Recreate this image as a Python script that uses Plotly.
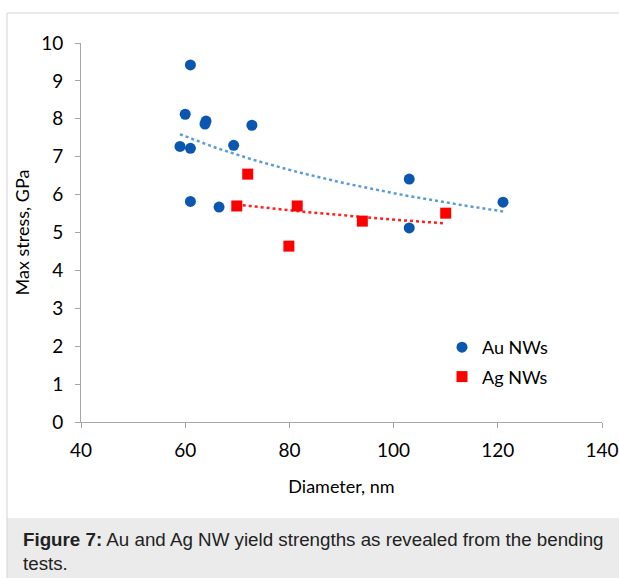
import numpy as np
import plotly.graph_objects as go

# ---- data ----
au_d = [59, 60, 61, 61, 61, 64, 63.8, 66.5, 69.3, 72.8, 103, 103, 121]
au_s = [7.27, 8.12, 9.42, 7.22, 5.82, 7.94, 7.86, 5.67, 7.30, 7.83, 6.41, 5.12, 5.80]
ag_d = [69.9, 72, 79.9, 81.5, 94, 110]
ag_s = [5.70, 6.54, 4.64, 5.70, 5.30, 5.51]
x_ticks = [40, 60, 80, 100, 120, 140]
y_ticks = list(range(0, 11))

W, H = 619, 578
L, R, T, B = 81, 17, 43, 156
pw, ph = W - L - R, H - T - B


def px(x):
    return (x - L) / pw


def py(y):
    return (H - B - y) / ph


def power_fit(x, y):
    x = np.asarray(x, float)
    y = np.asarray(y, float)
    b, lna = np.polyfit(np.log(x), np.log(y), 1)
    xs = np.linspace(x.min(), x.max(), 60)
    return xs, np.exp(lna) * xs ** b


fig = go.Figure()
xa, ya = power_fit(au_d, au_s)
xg, yg = power_fit(ag_d, ag_s)
fig.add_trace(go.Scatter(x=xa, y=ya, mode="lines", showlegend=False, hoverinfo="skip",
                         line=dict(color="#5b9bd5", width=2.5, dash="dot")))
fig.add_trace(go.Scatter(x=xg, y=yg, mode="lines", showlegend=False, hoverinfo="skip",
                         line=dict(color="#ff2020", width=2.5, dash="dot")))
fig.add_trace(go.Scatter(x=au_d, y=au_s, mode="markers", name="Au NWs", legendgroup="au",
                         marker=dict(symbol="circle", size=11, color="#0b57b0")))
fig.add_trace(go.Scatter(x=ag_d, y=ag_s, mode="markers", name="Ag NWs", legendgroup="ag",
                         marker=dict(symbol="square", size=11, color="#ff0000")))

FONT = "Lato, Open Sans, sans-serif"
axis_font = dict(family=FONT, size=19, color="#000000")
title_font = dict(family=FONT, size=18, color="#000000")
fig.update_xaxes(range=[40, 140], tickvals=x_ticks, showgrid=False, zeroline=False, automargin=False,
                 showline=True, linecolor="#a6a6a6", linewidth=1, ticks="outside",
                 ticklen=5, tickcolor="#a6a6a6", tickfont=axis_font, ticklabelstandoff=6,
                 title=dict(text="Diameter, nm", font=title_font, standoff=20))
fig.update_yaxes(range=[0, 10], tickvals=y_ticks, showgrid=False, zeroline=False, automargin=False,
                 showline=True, linecolor="#a6a6a6", linewidth=1, ticks="outside",
                 ticklen=5, tickcolor="#a6a6a6", tickfont=axis_font, ticklabelstandoff=8,
                 title=dict(text="Max stress, GPa", font=title_font, standoff=6))

shapes = [
    # caption background
    dict(type="rect", xref="paper", yref="paper", x0=px(7), x1=px(W + 2), y0=py(518), y1=py(H + 2),
         fillcolor="#ebebeb", line=dict(width=0), layer="below"),
    # outer border
    dict(type="line", xref="paper", yref="paper", x0=px(7), x1=px(W + 2), y0=py(13), y1=py(13),
         line=dict(color="#d4d4d4", width=1)),
    dict(type="line", xref="paper", yref="paper", x0=px(7), x1=px(7), y0=py(13), y1=py(H + 2),
         line=dict(color="#d4d4d4", width=1)),
]

fig.update_layout(
    width=W, height=H, margin=dict(l=L, r=R, t=T, b=B, autoexpand=False),
    paper_bgcolor="white", plot_bgcolor="white",
    shapes=shapes,
    legend=dict(x=px(442), y=py(329), xanchor="left", yanchor="top",
                font=dict(family=FONT, size=18, color="#000"),
                bgcolor="rgba(0,0,0,0)", itemwidth=30, tracegroupgap=3),
    annotations=[dict(xref="paper", yref="paper", x=px(21), y=py(527), xanchor="left", yanchor="top",
                      align="left", showarrow=False,
                      text="<b>Figure 7:</b> Au and Ag NW yield strengths as revealed from the bending<br>tests.",
                      font=dict(family="Liberation Sans, Arial, sans-serif", size=18.75, color="#222"))],
)
fig.write_html("out.html")
